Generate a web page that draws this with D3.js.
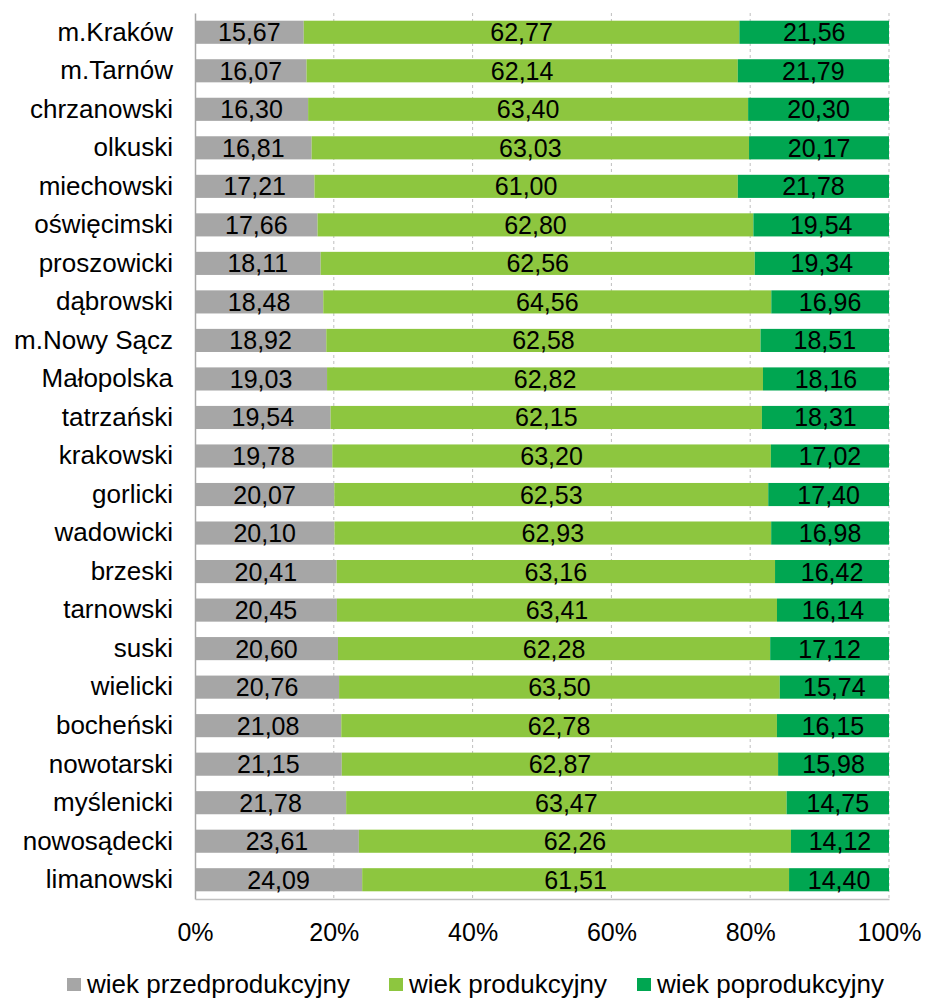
<!DOCTYPE html>
<html>
<head>
<meta charset="utf-8">
<script src="https://cdn.jsdelivr.net/npm/d3@7"></script>
<style>
  body { margin: 0; background: #fff; }
  text { font-family: "Liberation Sans", Arial, sans-serif; }
</style>
</head>
<body>
<div class="container"></div>
<script>
var categories = ["m.Kraków", "m.Tarnów", "chrzanowski", "olkuski", "miechowski", "oświęcimski",
    "proszowicki", "dąbrowski", "m.Nowy Sącz", "Małopolska", "tatrzański", "krakowski", "gorlicki",
    "wadowicki", "brzeski", "tarnowski", "suski", "wielicki", "bocheński", "nowotarski",
    "myślenicki", "nowosądecki", "limanowski"];

var przed = [15.67, 16.07, 16.30, 16.81, 17.21, 17.66, 18.11, 18.48, 18.92, 19.03, 19.54, 19.78,
    20.07, 20.10, 20.41, 20.45, 20.60, 20.76, 21.08, 21.15, 21.78, 23.61, 24.09];
var prod = [62.77, 62.14, 63.40, 63.03, 61.00, 62.80, 62.56, 64.56, 62.58, 62.82, 62.15, 63.20,
    62.53, 62.93, 63.16, 63.41, 62.28, 63.50, 62.78, 62.87, 63.47, 62.26, 61.51];
var poprod = [21.56, 21.79, 20.30, 20.17, 21.78, 19.54, 19.34, 16.96, 18.51, 18.16, 18.31, 17.02,
    17.40, 16.98, 16.42, 16.14, 17.12, 15.74, 16.15, 15.98, 14.75, 14.12, 14.40];

var seriesNames = ["wiek przedprodukcyjny", "wiek produkcyjny", "wiek poprodukcyjny"];
var seriesKeys = ["przed", "prod", "poprod"];
var xTicks = [0, 0.2, 0.4, 0.6, 0.8, 1];

var svgWidth = 927;
var svgHeight = 998;
var chartMargin = { top: 13, bottom: 99, left: 195, right: 38 };
var chartWidth = svgWidth - chartMargin.left - chartMargin.right;
var chartHeight = svgHeight - chartMargin.top - chartMargin.bottom;

var colors = ["#A6A6A6", "#8DC63F", "#00A651"];

var rows = categories.map(function (c, i) {
    var total = przed[i] + prod[i] + poprod[i];
    return {
        name: c,
        przed: przed[i] / total, prod: prod[i] / total, poprod: poprod[i] / total,
        raw: { przed: przed[i], prod: prod[i], poprod: poprod[i] }
    };
});

var stacked = d3.stack().keys(seriesKeys)(rows);

var svg = d3.select(".container")
    .append("svg")
    .attr("width", svgWidth)
    .attr("height", svgHeight);

var chartGroup = svg.append("g")
    .attr("transform", `translate(${chartMargin.left}, ${chartMargin.top})`);

var xScale = d3.scaleLinear().domain([0, 1]).range([0, chartWidth]);
var yScale = d3.scaleBand()
    .domain(categories)
    .range([0, chartHeight])
    .paddingInner(0.4)
    .paddingOuter(0.2);

// dashed gridlines
chartGroup.selectAll(".grid")
    .data(xTicks.slice(1))
    .enter()
    .append("line")
    .attr("x1", d => xScale(d))
    .attr("x2", d => xScale(d))
    .attr("y1", 0)
    .attr("y2", chartHeight)
    .attr("stroke", "#BFBFBF")
    .attr("stroke-dasharray", "3,3");

var layers = chartGroup.selectAll(".layer")
    .data(stacked)
    .enter()
    .append("g")
    .attr("fill", (d, i) => colors[i]);

layers.selectAll("rect")
    .data(d => d)
    .enter()
    .append("rect")
    .attr("x", d => xScale(d[0]))
    .attr("width", d => xScale(d[1]) - xScale(d[0]))
    .attr("y", d => yScale(d.data.name))
    .attr("height", yScale.bandwidth());

layers.each(function (layer) {
    d3.select(this).selectAll("text")
        .data(layer)
        .enter()
        .append("text")
        .attr("x", d => (xScale(d[0]) + xScale(d[1])) / 2)
        .attr("y", d => yScale(d.data.name) + yScale.bandwidth() / 2)
        .attr("dy", "0.36em")
        .attr("text-anchor", "middle")
        .attr("font-size", "25px")
        .attr("fill", "#000")
        .text(d => d.data.raw[layer.key].toFixed(2).replace(".", ","));
});

// axes
var leftAxis = d3.axisLeft(yScale).tickSize(0).tickPadding(22);
var yAxisG = chartGroup.append("g").call(leftAxis);
yAxisG.select(".domain").attr("stroke", "#A6A6A6").attr("stroke-width", 1.5);
yAxisG.selectAll("text").attr("font-size", "26px").attr("fill", "#000")
    .style("font-family", "'Liberation Sans', Arial, sans-serif");

var bottomAxis = d3.axisBottom(xScale).tickValues(xTicks).tickSize(0).tickPadding(24)
    .tickFormat(d3.format(".0%"));
var xAxisG = chartGroup.append("g")
    .attr("transform", `translate(0, ${chartHeight})`)
    .call(bottomAxis);
xAxisG.select(".domain").attr("stroke", "#BFBFBF").attr("stroke-width", 1.5);
xAxisG.selectAll("text").attr("font-size", "25px").attr("fill", "#000")
    .style("font-family", "'Liberation Sans', Arial, sans-serif");

// legend
var legendX = [67, 389, 637];
var legend = svg.selectAll(".legend")
    .data(seriesNames)
    .enter()
    .append("g")
    .attr("transform", (d, i) => `translate(${legendX[i]}, 985)`);

legend.append("rect")
    .attr("x", 0)
    .attr("y", -7)
    .attr("width", 14)
    .attr("height", 13)
    .attr("fill", (d, i) => colors[i]);

legend.append("text")
    .attr("x", 20)
    .attr("y", 0)
    .attr("dy", "0.3em")
    .attr("font-size", "26px")
    .attr("fill", "#000")
    .text(d => d);
</script>
</body>
</html>
